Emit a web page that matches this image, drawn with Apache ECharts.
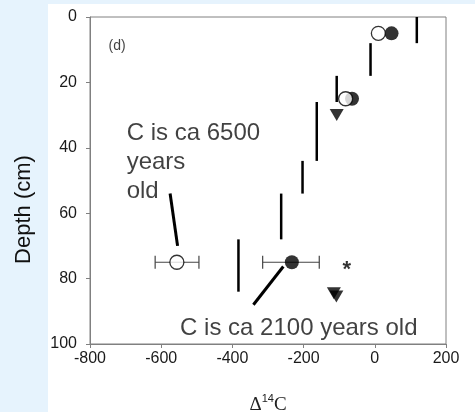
<!DOCTYPE html>
<html>
<head>
<meta charset="utf-8">
<script src="https://cdn.jsdelivr.net/npm/echarts@6/dist/echarts.min.js"></script>
<style>
  html, body { margin: 0; padding: 0; background: #e6f3fd; }
  #panel { position: absolute; left: 48px; top: 4px; width: 427px; height: 408px; background: #ffffff; }
  #chart { position: absolute; left: 0; top: 0; width: 475px; height: 412px; }
</style>
</head>
<body>
<div id="panel"></div>
<div id="chart"></div>
<script>
// Axis ticks
const xTicks = [-800, -600, -400, -200, 0, 200];
const yTicks = [0, 20, 40, 60, 80, 100];

// Depth-interval bars: [Δ14C, top depth, bottom depth]
const depthBars = [
  [118, 0, 8],
  [-12, 8, 18],
  [-107, 18, 26],
  [-163, 26, 44],
  [-203, 44, 54],
  [-263, 54, 68],
  [-383, 68, 84]
];

// Filled circles: [Δ14C, depth]
const filledCircles = [[47, 5], [-64, 25], [-233, 75]];
// Open circles: [Δ14C, depth]
const openCircles = [[10, 5], [-82, 25], [-556, 75]];
// Horizontal error bars: [low, high, depth]
const errorBars = [[-617, -494, 75], [-315, -156, 75]];
// Filled down-triangles: [Δ14C, depth]
const triangles = [[-107, 30], [-115, 84.5], [-108, 85.5]];
// Asterisk marker: [Δ14C, depth]
const stars = [[-79, 76]];

// Annotation leader lines: pairs of [Δ14C, depth]
const leader6500 = [[-575, 54], [-554, 70]];
const leader2100 = [[-341, 88], [-257, 76.3]];

// Annotation texts: [Δ14C, depth, text]
const panelTag = [-748, 8.8, '(d)'];
const note6500 = [-697, 31.2, 'C is ca 6500\nyears\nold'];
const note2100 = [-547, 95.1, 'C is ca 2100 years old'];

const chart = echarts.init(document.getElementById('chart'), null, { renderer: 'canvas' });

function textSeries(item, size, lineHeight, vAlign) {
  return {
    type: 'scatter',
    symbolSize: 0,
    silent: true,
    z: 10,
    data: [[item[0], item[1]]],
    label: {
      show: true,
      position: [0, 0],
      align: 'left',
      verticalAlign: vAlign,
      formatter: item[2],
      fontFamily: 'Liberation Sans, Arial, sans-serif',
      fontSize: size,
      lineHeight: lineHeight,
      color: '#111'
    }
  };
}

function leaderSeries(points) {
  return {
    type: 'line',
    data: points,
    symbol: 'none',
    silent: true,
    lineStyle: { color: '#000', width: 3 },
    z: 4
  };
}

const option = {
  animation: false,
  backgroundColor: 'transparent',
  grid: {
    left: 90, right: 29, top: 17, bottom: 68,
    outerBoundsMode: 'none',
    containLabel: false,
    show: true, borderColor: '#808080', borderWidth: 1
  },
  xAxis: {
    type: 'value',
    min: xTicks[0], max: xTicks[xTicks.length - 1], interval: 200,
    axisLine: { show: true, onZero: false, lineStyle: { color: '#808080', width: 1 } },
    axisTick: { show: true, inside: false, length: 4, lineStyle: { color: '#808080' } },
    splitLine: { show: false },
    axisLabel: { margin: 7, fontSize: 16, color: '#1a1a1a', fontFamily: 'Liberation Sans, Arial, sans-serif' },
    name: '{d|Δ}{s|14}{d|C}',
    nameLocation: 'middle',
    nameGap: 49,
    nameTextStyle: {
      rich: {
        d: { fontFamily: 'Liberation Serif, Times New Roman, serif', fontSize: 19, lineHeight: 22, color: '#222', verticalAlign: 'bottom' },
        s: { fontFamily: 'Liberation Sans, Arial, sans-serif', fontSize: 11, lineHeight: 14, color: '#222', verticalAlign: 'top' }
      }
    }
  },
  yAxis: {
    type: 'value',
    inverse: true,
    min: yTicks[0], max: yTicks[yTicks.length - 1], interval: 20,
    axisLine: { show: true, onZero: false, lineStyle: { color: '#808080', width: 1 } },
    axisTick: { show: true, inside: false, length: 4, lineStyle: { color: '#808080' } },
    splitLine: { show: false },
    axisLabel: { margin: 13, fontSize: 16, color: '#1a1a1a', fontFamily: 'Liberation Sans, Arial, sans-serif' },
    name: 'Depth (cm)',
    nameLocation: 'middle',
    nameRotate: 90,
    nameGap: 55,
    nameTextStyle: {
      fontSize: 22, color: '#111', fontFamily: 'Liberation Sans, Arial, sans-serif',
      // extra room on the reading end pushes the title toward the bottom of the axis
      padding: [0, 58, 0, 0]
    }
  },
  series: [
    {
      type: 'custom',
      silent: true,
      z: 3,
      data: depthBars,
      renderItem: function (params, api) {
        const a = api.coord([api.value(0), api.value(1)]);
        const b = api.coord([api.value(0), api.value(2)]);
        return {
          type: 'line',
          shape: { x1: a[0], y1: a[1], x2: b[0], y2: b[1] },
          style: { stroke: '#000', lineWidth: 2.5 }
        };
      }
    },
    {
      type: 'custom',
      silent: true,
      z: 3,
      data: errorBars,
      renderItem: function (params, api) {
        const l = api.coord([api.value(0), api.value(2)]);
        const r = api.coord([api.value(1), api.value(2)]);
        const cap = 6.5;
        const st = { stroke: '#444', lineWidth: 1.2 };
        return {
          type: 'group',
          children: [
            { type: 'line', shape: { x1: l[0], y1: l[1], x2: r[0], y2: r[1] }, style: st },
            { type: 'line', shape: { x1: l[0], y1: l[1] - cap, x2: l[0], y2: l[1] + cap }, style: st },
            { type: 'line', shape: { x1: r[0], y1: r[1] - cap, x2: r[0], y2: r[1] + cap }, style: st }
          ]
        };
      }
    },
    leaderSeries(leader6500),
    leaderSeries(leader2100),
    {
      type: 'scatter',
      data: filledCircles,
      symbol: 'circle',
      symbolSize: 14,
      itemStyle: { color: '#000' },
      z: 5
    },
    {
      type: 'scatter',
      data: openCircles,
      symbol: 'circle',
      symbolSize: 14,
      itemStyle: { color: '#fff', borderColor: '#000', borderWidth: 1.3 },
      z: 6
    },
    {
      type: 'scatter',
      data: triangles,
      symbol: 'triangle',
      symbolRotate: 180,
      symbolSize: [14, 12],
      itemStyle: { color: '#000' },
      z: 5
    },
    {
      type: 'scatter',
      data: stars,
      symbolSize: 0,
      z: 5,
      label: {
        show: true,
        position: 'inside',
        formatter: '*',
        fontFamily: 'Liberation Sans, Arial, sans-serif',
        fontSize: 22,
        fontWeight: 'bold',
        color: '#000',
        offset: [0, 4]
      }
    },
    textSeries(panelTag, 14, 16, 'middle'),
    textSeries(note6500, 24, 29, 'top'),
    textSeries(note2100, 24, 28, 'middle')
  ]
};

chart.setOption(option);
</script>
</body>
</html>
